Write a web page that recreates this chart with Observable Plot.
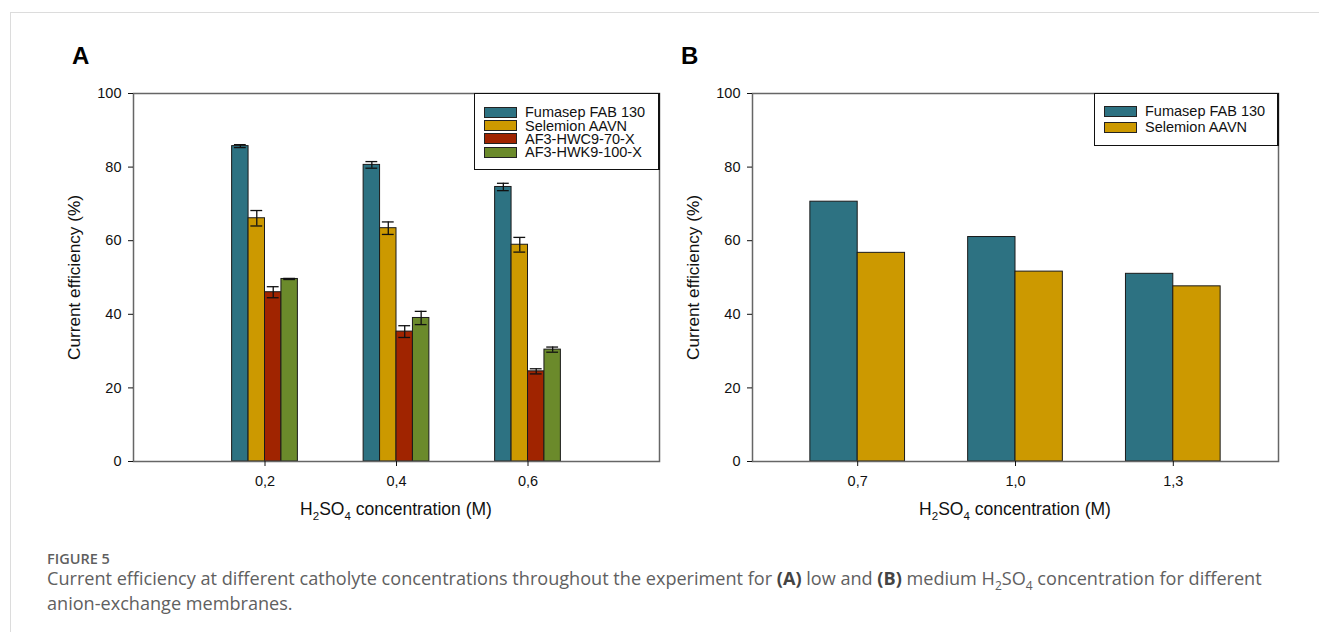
<!DOCTYPE html>
<html>
<head>
<meta charset="utf-8">
<script src="https://cdn.jsdelivr.net/npm/d3@7"></script>
<script src="https://cdn.jsdelivr.net/npm/@observablehq/plot@0.6"></script>
<style>
  body { margin: 0; background: #fff; }
  #page { position: relative; width: 1319px; height: 632px; overflow: hidden; font-family: "Liberation Sans", Arial, sans-serif; }
  #border { position: absolute; left: 10px; top: 12px; width: 1400px; height: 700px; border-top: 1.5px solid #dcdcdc; border-left: 1.5px solid #dcdcdc; }
  .panel { position: absolute; top: 30px; }
  .plabel { position: absolute; top: 43.7px; font-size: 24px; font-weight: bold; line-height: 1; color: #000; }
  .legend { position: absolute; background: #fff; border: 1px solid #111; border-right-width: 2px; box-sizing: border-box; font-size: 14.5px; color: #111; }
  .legend .row { display: flex; align-items: center; white-space: nowrap; }
  .legend .sw { width: 33px; height: 11px; border: 1px solid #222; box-sizing: border-box; margin-right: 8px; flex: none; }
  #fig { position: absolute; left: 47px; top: 550px; font-family: "Open Sans", sans-serif; font-weight: 600; font-size: 14.5px; line-height: 17px; color: #5f5f5f; }
  #cap { position: absolute; left: 47px; top: 566px; width: 1260px; font-family: "Open Sans", sans-serif; font-size: 18.1px; line-height: 25px; color: #606060; }
  #cap div { white-space: nowrap; }
  #cap b { font-weight: 700; color: #444; }
  #cap sub { font-size: 12px; line-height: 0; }
</style>
</head>
<body>
<div id="page">
  <div id="border"></div>
  <div class="plabel" style="left:72px">A</div>
  <div class="plabel" style="left:681px">B</div>
  <div id="panelA" class="panel" style="left:40px"></div>
  <div id="panelB" class="panel" style="left:660px"></div>
  <div id="legendA" class="legend" style="left:474px; top:93px; width:186px; height:77px; padding:11.5px 0 0 9px;"></div>
  <div id="legendB" class="legend" style="left:1094px; top:93px; width:185px; height:53px; padding:9px 0 0 9px;"></div>
  <div id="fig">FIGURE 5</div>
  <div id="cap">
    <div>Current efficiency at different catholyte concentrations throughout the experiment for <b>(A)</b> low and <b>(B)</b> medium H<sub>2</sub>SO<sub>4</sub> concentration for different</div>
    <div>anion-exchange membranes.</div>
  </div>
</div>
<script>
// ---- Panel A data ----
const seriesA = ["Fumasep FAB 130", "Selemion AAVN", "AF3-HWC9-70-X", "AF3-HWK9-100-X"];
const colorsA = ["#2d7282", "#cc9900", "#a02400", "#6b8a2b"];
const concA = [0.2, 0.4, 0.6];
const fumasepA = [85.7, 80.6, 74.6];
const fumasepErrA = [0.4, 0.9, 1.0];
const selemionA = [66.1, 63.4, 58.9];
const selemionErrA = [2.1, 1.7, 2.0];
const hwc9A = [46.0, 35.3, 24.5];
const hwc9ErrA = [1.5, 1.6, 0.7];
const hwk9A = [49.6, 39.0, 30.4];
const hwk9ErrA = [0.15, 1.8, 0.7];

// ---- Panel B data ----
const seriesB = ["Fumasep FAB 130", "Selemion AAVN"];
const colorsB = ["#2d7282", "#cc9900"];
const concB = [0.7, 1.0, 1.3];
const fumasepB = [70.6, 61.0, 51.0];
const selemionB = [56.7, 51.6, 47.6];

const yTicks = [0, 20, 40, 60, 80, 100];
const yLabel = "Current efficiency (%)";

function buildRows(conc, series, values, errors) {
  return conc.flatMap((c, j) => series.map((s, i) => ({
    conc: c, series: s, i, n: series.length,
    value: values[i][j], err: errors ? errors[i][j] : null
  })));
}

const rowsA = buildRows(concA, seriesA, [fumasepA, selemionA, hwc9A, hwk9A], [fumasepErrA, selemionErrA, hwc9ErrA, hwk9ErrA]);
const rowsB = buildRows(concB, seriesB, [fumasepB, selemionB], null);

const fmt = d => d3.format(".1f")(d).replace(".", ",");

function panel({rows, series, colors, conc, domain, barW, withErr, marginLeft, marginRight}) {
  const x1 = d => d.conc + (d.i - d.n / 2) * barW;
  const xc = d => x1(d) + barW / 2;
  const cap = barW * 0.36;
  const marks = [
    Plot.rectY(rows, {x1, x2: d => x1(d) + barW, y1: 0, y2: "value", fill: "series", stroke: "#1a1a1a", strokeWidth: 1})
  ];
  if (withErr) {
    const errStyle = {stroke: "#111", strokeWidth: 1.3};
    marks.push(Plot.ruleX(rows, {x: xc, y1: d => d.value - d.err, y2: d => d.value + d.err, ...errStyle}));
    marks.push(Plot.ruleY(rows, {y: d => d.value + d.err, x1: d => xc(d) - cap, x2: d => xc(d) + cap, ...errStyle}));
    marks.push(Plot.ruleY(rows, {y: d => d.value - d.err, x1: d => xc(d) - cap, x2: d => xc(d) + cap, ...errStyle}));
  }
  marks.push(
    Plot.frame({stroke: "#666", strokeWidth: 1.5}),
    Plot.axisY({ticks: yTicks, tickSize: 5, tickPadding: 7, fontSize: 14.5, label: null}),
    Plot.axisX({ticks: conc, tickFormat: fmt, tickSize: 5, tickPadding: 9, fontSize: 14.5, label: null}),
    Plot.text([yLabel], {frameAnchor: "left", rotate: -90, textAnchor: "middle", dx: -59, fontSize: 17.2, fill: "#111"})
  );
  const svg = Plot.plot({
    width: 640, height: 510,
    marginLeft, marginRight, marginTop: 63, marginBottom: 79,
    x: {type: "linear", domain},
    y: {domain: [0, 100]},
    color: {domain: series, range: colors},
    style: {fontFamily: "'Liberation Sans', Arial, sans-serif", fontSize: "14.5px", color: "#111", background: "transparent", overflow: "visible"},
    marks
  });
  // x-axis label with real subscripts
  const [r0, r1] = svg.scale("x").range;
  const yb = svg.scale("y").range[0] + 54;
  const t = d3.select(svg).append("text")
    .attr("x", (r0 + r1) / 2).attr("y", yb)
    .attr("text-anchor", "middle")
    .attr("font-size", 17.5).attr("fill", "#111")
    .attr("font-family", "'Liberation Sans', Arial, sans-serif");
  t.append("tspan").text("H");
  t.append("tspan").attr("font-size", 11.5).attr("dy", 5).text("2");
  t.append("tspan").attr("dy", -5).text("SO");
  t.append("tspan").attr("font-size", 11.5).attr("dy", 5).text("4");
  t.append("tspan").attr("dy", -5).text(" concentration (M)");
  return svg;
}

document.getElementById("panelA").append(panel({
  rows: rowsA, series: seriesA, colors: colorsA, conc: concA,
  domain: [0, 0.8], barW: 0.025, withErr: true, marginLeft: 93, marginRight: 21
}));
document.getElementById("panelB").append(panel({
  rows: rowsB, series: seriesB, colors: colorsB, conc: concB,
  domain: [0.5, 1.5], barW: 0.09, withErr: false, marginLeft: 92, marginRight: 22
}));

function legend(el, series, colors, rowH) {
  const node = document.getElementById(el);
  series.forEach((s, i) => {
    const row = document.createElement("div");
    row.className = "row";
    row.style.height = rowH + "px";
    const sw = document.createElement("div");
    sw.className = "sw";
    sw.style.background = colors[i];
    const tx = document.createElement("span");
    tx.textContent = s;
    row.append(sw, tx);
    node.append(row);
  });
}
legend("legendA", seriesA, colorsA, 13.4);
legend("legendB", seriesB, colorsB, 16);
</script>
</body>
</html>
